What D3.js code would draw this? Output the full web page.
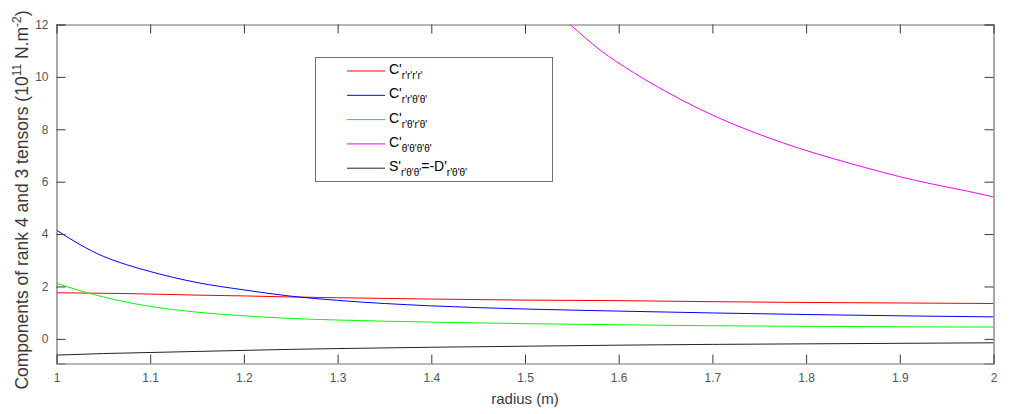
<!DOCTYPE html>
<html><head><meta charset="utf-8">
<script src="https://cdn.jsdelivr.net/npm/d3@7"></script>
<style>body{margin:0;background:#fff}svg{display:block}</style>
</head><body>
<svg id="c" width="1012" height="414"></svg>
<script>
// radius values (m)
const radius = [1.00,1.025,1.05,1.075,1.10,1.15,1.20,1.25,1.30,1.40,1.50,1.60,1.70,1.80,1.90,2.00];
const cRRRR   = [1.76,1.75,1.74,1.73,1.71,1.67,1.64,1.60,1.57,1.52,1.48,1.46,1.42,1.39,1.37,1.35];
const cRRTT   = [4.15,3.60,3.15,2.83,2.57,2.15,1.87,1.63,1.47,1.26,1.14,1.06,0.99,0.93,0.88,0.84];
const cRTRT   = [2.12,1.84,1.60,1.40,1.24,1.02,0.88,0.78,0.72,0.64,0.58,0.54,0.50,0.48,0.46,0.45];
const sRTT    = [-0.62,-0.59,-0.56,-0.54,-0.52,-0.48,-0.44,-0.40,-0.37,-0.32,-0.28,-0.24,-0.21,-0.19,-0.17,-0.15];
const radiusT = [1.54,1.548,1.58,1.616,1.651,1.687,1.722,1.758,1.793,1.829,1.865,1.90,1.936,1.972,2.00];
const cTTTT   = [12.25,12.0,11.03,10.16,9.43,8.76,8.2,7.7,7.27,6.88,6.52,6.19,5.9,5.64,5.42];
const xTicks = [1,1.1,1.2,1.3,1.4,1.5,1.6,1.7,1.8,1.9,2];
const yTicks = [0,2,4,6,8,10,12];

const series = [
  {x: radius, y: cRRRR, color: "#ff0000", main: "C'", sub: "r'r'r'r'"},
  {x: radius, y: cRRTT, color: "#0000ff", main: "C'", sub: "r'r'θ'θ'"},
  {x: radius, y: cRTRT, color: "#00ff00", main: "C'", sub: "r'θ'r'θ'"},
  {x: radiusT, y: cTTTT, color: "#ff00ff", main: "C'", sub: "θ'θ'θ'θ'"},
  {x: radius, y: sRTT, color: "#222222", main: "S'", sub: "r'θ'θ'", main2: "=-D'", sub2: "r'θ'θ'"}
];

const svg = d3.select("#c");
const L = 56.5, R = 993.5, T = 24.5, B = 363.5;
const x = d3.scaleLinear().domain([1,2]).range([L,R]);
const y = d3.scaleLinear().domain([-0.94,12]).range([B,T]);
const axisCol = "#6f6f6f", textCol = "#555555";
const font = "Arial, 'Liberation Sans', sans-serif";

svg.append("defs").append("clipPath").attr("id","clip")
  .append("rect").attr("x",L).attr("y",T).attr("width",R-L).attr("height",B-T);

const line = d3.line().x(d=>x(d[0])).y(d=>y(d[1])).curve(d3.curveMonotoneX);
const g = svg.append("g").attr("clip-path","url(#clip)");
series.forEach(s=>{
  g.append("path").datum(s.x.map((v,i)=>[v,s.y[i]]))
   .attr("d",line).attr("fill","none").attr("stroke",s.color).attr("stroke-width",1);
});

// axes (box with inward ticks)
const tl = 9;
const ax = svg.append("g");
ax.append("g").attr("transform",`translate(0,${B})`)
  .call(d3.axisBottom(x).tickValues(xTicks).tickSize(-tl).tickPadding(10).tickFormat(d3.format("~g")));
ax.append("g").attr("transform",`translate(0,${T})`)
  .call(d3.axisTop(x).tickValues(xTicks).tickSize(-tl).tickFormat(""));
ax.append("g").attr("transform",`translate(${L},0)`)
  .call(d3.axisLeft(y).tickValues(yTicks).tickSize(-tl).tickPadding(8));
ax.append("g").attr("transform",`translate(${R},0)`)
  .call(d3.axisRight(y).tickValues(yTicks).tickSize(-tl).tickFormat(""));
ax.selectAll(".domain").attr("stroke",axisCol).attr("stroke-width",1.2);
ax.selectAll(".tick line").attr("stroke","#3a3a3a");
ax.selectAll(".tick text").attr("fill",textCol).attr("font-family",font).attr("font-size",12);

// axis labels
svg.append("text").attr("x",(L+R)/2).attr("y",404).attr("text-anchor","middle")
  .attr("font-family",font).attr("font-size",15).attr("fill","#3a3a3a").text("radius (m)");
const yl = svg.append("text").attr("transform",`translate(28,${(T+B)/2+6}) rotate(-90)`)
  .attr("text-anchor","middle").attr("font-family",font).attr("font-size",17.5).attr("fill","#3a3a3a");
yl.append("tspan").text("Components of rank 4 and 3 tensors (10");
yl.append("tspan").attr("dy",-7).attr("font-size",12).text("11");
yl.append("tspan").attr("dy",7).text(" N.m");
yl.append("tspan").attr("dy",-7).attr("font-size",12).text("-2");
yl.append("tspan").attr("dy",7).text(")");

// legend
const lg = svg.append("g");
lg.append("rect").attr("x",315.5).attr("y",57.5).attr("width",237).attr("height",124)
  .attr("fill","#fff").attr("stroke","#6f6f6f").attr("stroke-width",1);
series.forEach((s,i)=>{
  const cy = 71 + i*24.3;
  lg.append("line").attr("x1",347).attr("x2",385).attr("y1",cy).attr("y2",cy)
    .attr("stroke",s.color).attr("stroke-width",1);
  const t = lg.append("text").attr("x",389).attr("y",cy+3).attr("font-family",font)
    .attr("font-size",14).attr("fill","#000");
  t.append("tspan").text(s.main);
  t.append("tspan").attr("dy",5).attr("font-size",10).text(s.sub);
  if (s.main2){
    t.append("tspan").attr("dy",-5).attr("font-size",14).text(s.main2);
    t.append("tspan").attr("dy",5).attr("font-size",10).text(s.sub2);
  }
});
</script>
</body></html>
